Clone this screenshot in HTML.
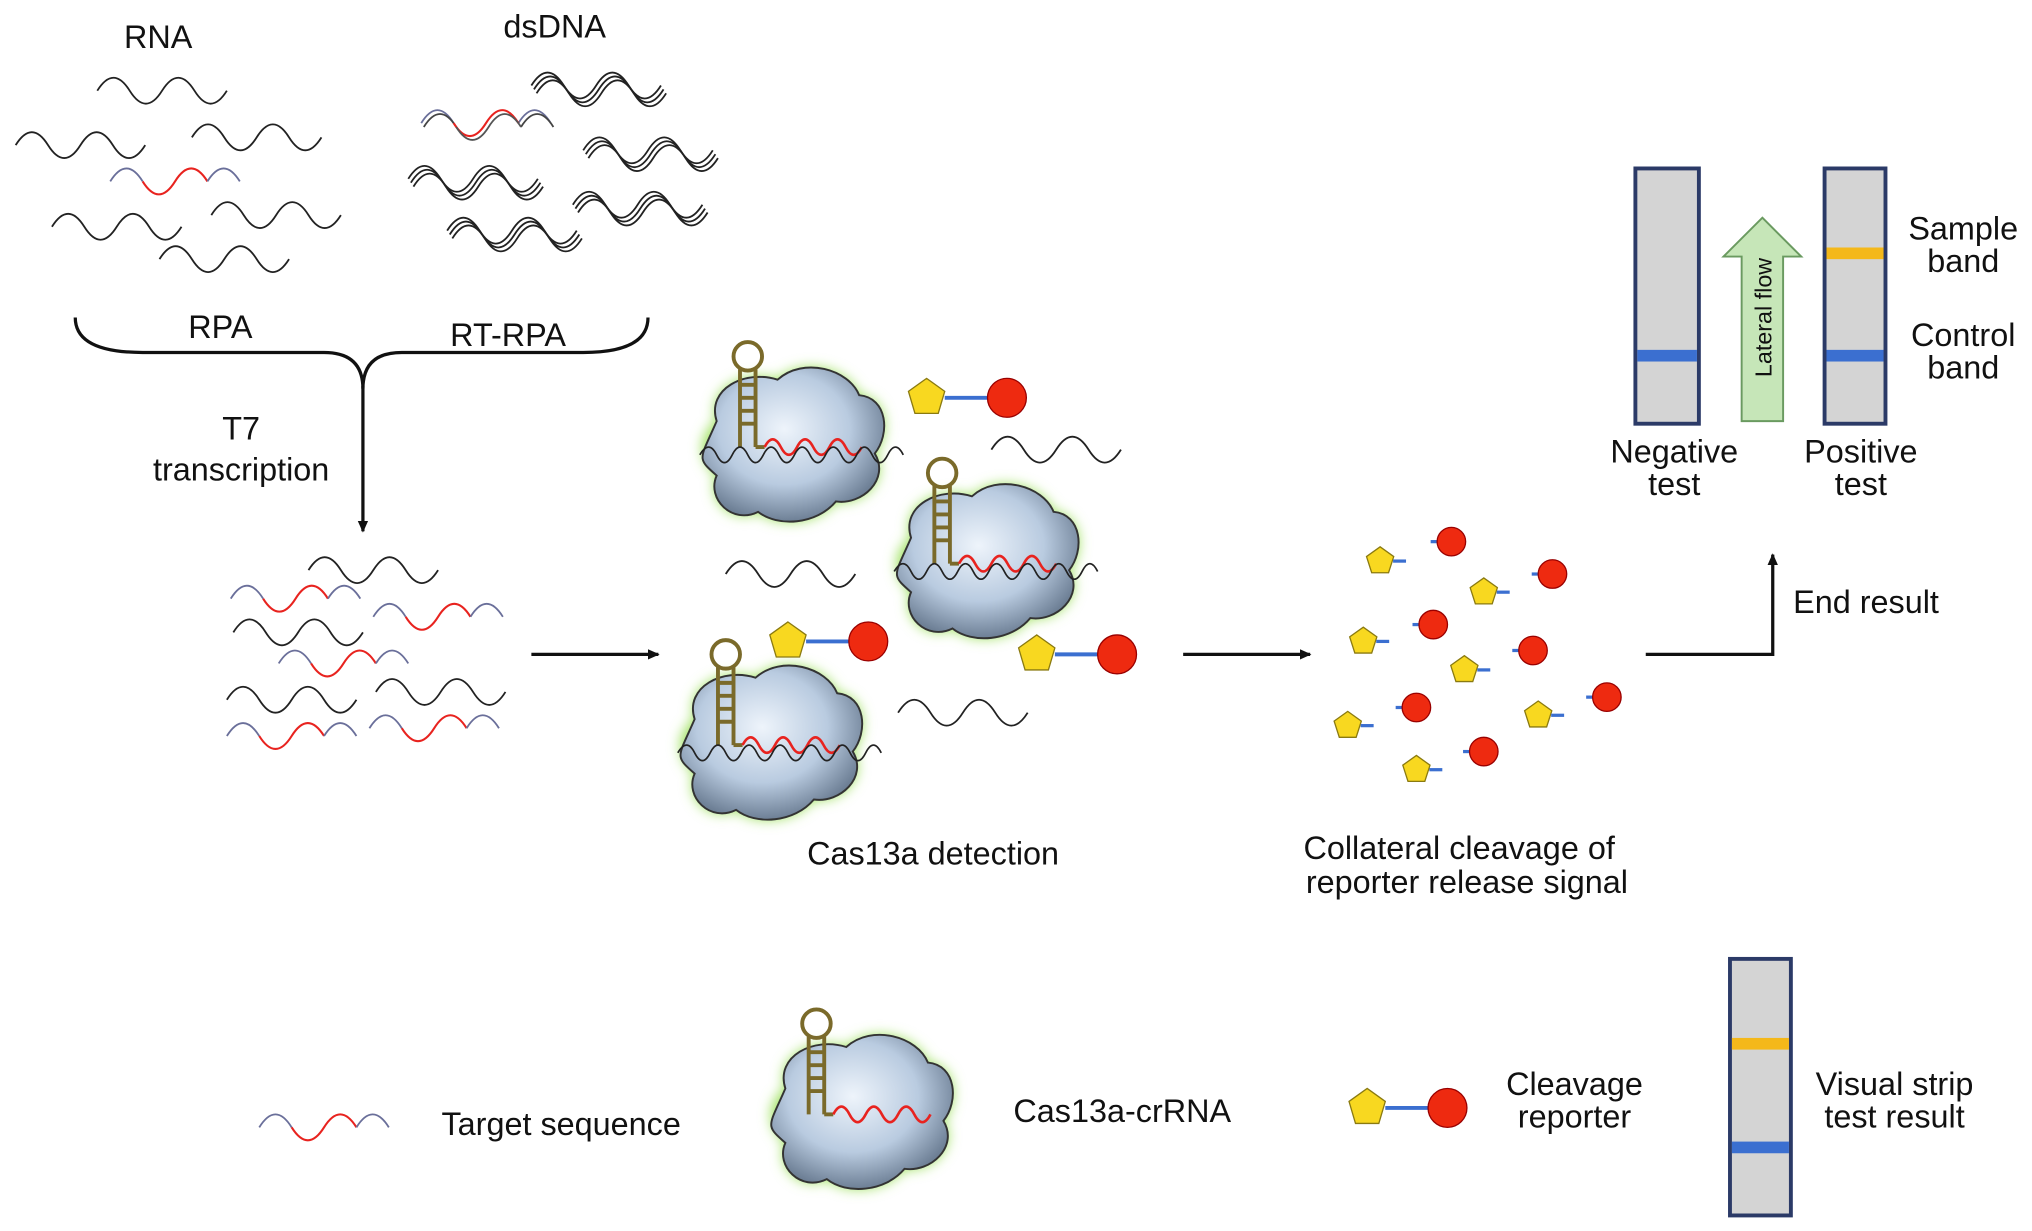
<!DOCTYPE html>
<html><head><meta charset="utf-8"><style>
html,body{margin:0;padding:0;background:#fff;}
svg{display:block;}
text{font-family:"Liberation Sans",sans-serif;fill:#111;}
</style></head><body>
<svg width="2032" height="1231" viewBox="0 0 1568 950" xmlns="http://www.w3.org/2000/svg">
<defs>
<path id="w" d="M0,0 Q12.5,-20 25,0 T50,0 T75,0 T100,0" fill="none" stroke="#222" stroke-width="1.4"/>
<g id="t">
<path d="M0,0 Q12.5,-20 25,0" fill="none" stroke="#6a6f9a" stroke-width="1.4"/>
<path d="M25,0 Q37.5,20 50,0 T75,0" fill="none" stroke="#e8231f" stroke-width="1.6"/>
<path d="M75,0 Q87.5,-20 100,0" fill="none" stroke="#6a6f9a" stroke-width="1.4"/>
</g>
<g id="d">
<path d="M0,0 Q12.5,-20 25,0 T50,0 T75,0 T100,0" fill="none" stroke="#222" stroke-width="1.4"/>
<path d="M2,3 Q14.5,-17 27,3 T52,3 T77,3 T102,3" fill="none" stroke="#222" stroke-width="1.4"/>
<path d="M4,6 Q16.5,-14 29,6 T54,6 T79,6 T104,6" fill="none" stroke="#222" stroke-width="1.4"/>
</g>
<g id="dt">
<path d="M0,0 Q12.5,-20 25,0 M75,0 Q87.5,-20 100,0" fill="none" stroke="#6a6f9a" stroke-width="1.4"/>
<path d="M2,3 Q14.5,-17 27,3 M77,3 Q89.5,-17 102,3" fill="none" stroke="#444" stroke-width="1.4"/>
<path d="M25,0 Q37.5,20 50,0 T75,0" fill="none" stroke="#e8231f" stroke-width="1.6"/>
<path d="M27,3 Q39.5,23 52,3 T77,3" fill="none" stroke="#555" stroke-width="1.4"/>
</g>
<radialGradient id="bg" cx="45%" cy="40%" r="60%">
<stop offset="0" stop-color="#eef4fb"/><stop offset="0.6" stop-color="#b9cbe0"/><stop offset="1" stop-color="#6d7f95"/>
</radialGradient>
<filter id="glow" x="-30%" y="-30%" width="160%" height="160%">
<feGaussianBlur stdDeviation="5"/>
</filter>
<g id="cas">
<path d="M-62,-20 C-70,-45 -40,-60 -15,-52 C5,-70 40,-60 48,-40 C70,-38 72,-10 60,5 C72,25 50,45 30,42 C15,60 -15,62 -30,50 C-50,60 -70,40 -62,22 C-78,8 -75,-10 -62,-20 Z" fill="#9be05a" filter="url(#glow)"/>
<path d="M-62,-20 C-70,-45 -40,-60 -15,-52 C5,-70 40,-60 48,-40 C70,-38 72,-10 60,5 C72,25 50,45 30,42 C15,60 -15,62 -30,50 C-50,60 -70,40 -62,22 C-78,8 -75,10 -62,-20 Z" fill="url(#bg)" stroke="#333" stroke-width="1.5"/>
<circle cx="-38" cy="-70" r="11" fill="none" stroke="#7a6a2a" stroke-width="3"/>
<path d="M-44,-60 L-44,0 M-32,-60 L-32,0 M-44,-48 H-32 M-44,-38 H-32 M-44,-28 H-32 M-44,-18 H-32" stroke="#7a6a2a" stroke-width="3" fill="none"/>
<path d="M-32,0 H-25" stroke="#7a6a2a" stroke-width="3"/>
<path d="M-25,0 Q-18.75,-12 -12.5,0 T0,0 T12.5,0 T25,0 T37.5,0 T50,0" fill="none" stroke="#e8231f" stroke-width="2"/>
</g>
<g id="casw">
<use href="#cas"/>
<path d="M-75,6 Q-68,-6 -62,6 T-50,6 T-38,6 T-26,6 T-14,6 T-2,6 T10,6 T22,6 T34,6 T46,6 T58,6 T70,6 T82,6" fill="none" stroke="#222" stroke-width="1.3"/>
</g>
<g id="rep">
<polygon points="0,-15 14,-5 9,12 -9,12 -14,-5" fill="#f8d820" stroke="#8a7a10" stroke-width="1"/>
<line x1="14" y1="0" x2="47" y2="0" stroke="#3b6fd0" stroke-width="3"/>
<circle cx="62" cy="0" r="15" fill="#ee2a10" stroke="#900" stroke-width="1"/>
</g>
<g id="pent"><polygon points="0,-11 10.5,-3.5 6.5,9 -6.5,9 -10.5,-3.5" fill="#f8d820" stroke="#8a7a10" stroke-width="1"/><line x1="10" y1="0" x2="20" y2="0" stroke="#3b6fd0" stroke-width="2.5"/></g>
<g id="red"><line x1="-16" y1="0" x2="-8" y2="0" stroke="#3b6fd0" stroke-width="2.5"/><circle cx="0" cy="0" r="11" fill="#ee2a10" stroke="#900" stroke-width="1"/></g>
<marker id="ah" markerWidth="10" markerHeight="10" refX="8" refY="5" orient="auto" markerUnits="userSpaceOnUse"><path d="M0,1 L9,5 L0,9 Z" fill="#111"/></marker>
</defs>

<text x="122" y="37" font-size="25" text-anchor="middle">RNA</text>
<text x="428" y="29" font-size="25" text-anchor="middle">dsDNA</text>

<use href="#w" x="75" y="70"/>
<use href="#w" x="12" y="112"/>
<use href="#w" x="148" y="106"/>
<use href="#t" x="85" y="140"/>
<use href="#w" x="40" y="175"/>
<use href="#w" x="163" y="166"/>
<use href="#w" x="123" y="200"/>

<use href="#d" x="410" y="66"/>
<use href="#dt" x="325" y="95"/>
<use href="#d" x="450" y="116"/>
<use href="#d" x="315" y="138"/>
<use href="#d" x="442" y="158"/>
<use href="#d" x="345" y="178"/>

<path d="M58,245 Q58,272 110,272 L250,272 Q280,272 280,300 Q280,272 310,272 L450,272 Q500,272 500,245" fill="none" stroke="#111" stroke-width="2.5"/>
<text x="170" y="261" font-size="25" text-anchor="middle">RPA</text>
<text x="392" y="267" font-size="25" text-anchor="middle">RT-RPA</text>
<line x1="280" y1="298" x2="280" y2="410" stroke="#111" stroke-width="2.5" marker-end="url(#ah)"/>
<text x="186" y="339" font-size="25" text-anchor="middle">T7</text>
<text x="186" y="371" font-size="25" text-anchor="middle">transcription</text>

<use href="#w" x="238" y="440"/>
<use href="#t" x="178" y="462"/>
<use href="#t" x="288" y="476"/>
<use href="#w" x="180" y="488"/>
<use href="#t" x="215" y="512"/>
<use href="#w" x="175" y="540"/>
<use href="#w" x="290" y="534"/>
<use href="#t" x="175" y="568"/>
<use href="#t" x="285" y="562"/>

<line x1="410" y1="505" x2="508" y2="505" stroke="#111" stroke-width="2.5" marker-end="url(#ah)"/>
<line x1="913" y1="505" x2="1011" y2="505" stroke="#111" stroke-width="2.5" marker-end="url(#ah)"/>

<use href="#casw" x="615" y="345"/>
<use href="#casw" x="765" y="435"/>
<use href="#casw" x="598" y="575"/>
<use href="#rep" x="715" y="307"/>
<use href="#rep" x="608" y="495"/>
<use href="#rep" x="800" y="505"/>
<use href="#w" x="765" y="347"/>
<use href="#w" x="560" y="443"/>
<use href="#w" x="693" y="550"/>

<text x="720" y="667" font-size="25" text-anchor="middle">Cas13a detection</text>

<use href="#pent" x="1065" y="433"/>
<use href="#red" x="1120" y="418"/>
<use href="#red" x="1198" y="443"/>
<use href="#pent" x="1145" y="457"/>
<use href="#red" x="1106" y="482"/>
<use href="#pent" x="1052" y="495"/>
<use href="#red" x="1183" y="502"/>
<use href="#pent" x="1130" y="517"/>
<use href="#red" x="1093" y="546"/>
<use href="#red" x="1240" y="538"/>
<use href="#pent" x="1040" y="560"/>
<use href="#pent" x="1187" y="552"/>
<use href="#red" x="1145" y="580"/>
<use href="#pent" x="1093" y="594"/>

<text x="1126" y="663" font-size="25" text-anchor="middle">Collateral cleavage of</text>
<text x="1132" y="689" font-size="25" text-anchor="middle">reporter release signal</text>

<path d="M1270,505 H1368 V428" fill="none" stroke="#111" stroke-width="2.5" marker-end="url(#ah)"/>
<text x="1440" y="473" font-size="25" text-anchor="middle">End result</text>

<rect x="1262" y="130" width="49" height="197" fill="#d4d4d4" stroke="#2b3a67" stroke-width="3"/>
<rect x="1263.5" y="270" width="46" height="9" fill="#3b6fd0"/>
<rect x="1408" y="130" width="47" height="197" fill="#d4d4d4" stroke="#2b3a67" stroke-width="3"/>
<rect x="1409.5" y="191" width="44" height="9" fill="#f4b81a"/>
<rect x="1409.5" y="270" width="44" height="9" fill="#3b6fd0"/>
<polygon points="1360,168 1390,198 1376,198 1376,325 1344,325 1344,198 1330,198" fill="#c6e6b8" stroke="#6a9a60" stroke-width="1.5"/>
<text transform="translate(1367,245) rotate(-90)" font-size="18" text-anchor="middle">Lateral flow</text>
<text x="1515" y="185" font-size="25" text-anchor="middle">Sample</text>
<text x="1515" y="210" font-size="25" text-anchor="middle">band</text>
<text x="1515" y="267" font-size="25" text-anchor="middle">Control</text>
<text x="1515" y="292" font-size="25" text-anchor="middle">band</text>
<text x="1292" y="357" font-size="25" text-anchor="middle">Negative</text>
<text x="1292" y="382" font-size="25" text-anchor="middle">test</text>
<text x="1436" y="357" font-size="25" text-anchor="middle">Positive</text>
<text x="1436" y="382" font-size="25" text-anchor="middle">test</text>

<use href="#t" x="200" y="870"/>
<text x="433" y="876" font-size="25" text-anchor="middle">Target sequence</text>
<use href="#cas" x="668" y="860"/>
<text x="866" y="866" font-size="25" text-anchor="middle">Cas13a-crRNA</text>
<use href="#rep" x="1055" y="855"/>
<text x="1215" y="845" font-size="25" text-anchor="middle">Cleavage</text>
<text x="1215" y="870" font-size="25" text-anchor="middle">reporter</text>
<rect x="1335" y="740" width="47" height="198" fill="#d4d4d4" stroke="#2b3a67" stroke-width="3"/>
<rect x="1336.5" y="801" width="44" height="9" fill="#f4b81a"/>
<rect x="1336.5" y="881" width="44" height="9" fill="#3b6fd0"/>
<text x="1462" y="845" font-size="25" text-anchor="middle">Visual strip</text>
<text x="1462" y="870" font-size="25" text-anchor="middle">test result</text>
</svg>
</body></html>
